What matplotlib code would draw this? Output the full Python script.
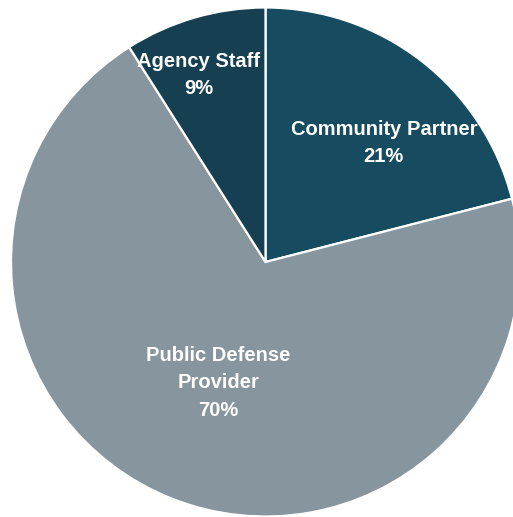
import numpy as np
import matplotlib
matplotlib.use("Agg")
import matplotlib.pyplot as plt
from matplotlib import font_manager

categories = ["Community Partner", "Public Defense\nProvider", "Agency Staff"]
shares = [21, 70, 9]
colors = ["#174b5f", "#87959f", "#163f51"]

# label placement relative to each wedge: (radius fraction, angle tweak in degrees)
label_pos = [(0.66, -7.0), (0.51, 0.2), (0.78, 3.5)]

names = {f.name for f in font_manager.fontManager.ttflist}
family = ["Liberation Sans Narrow"] if "Liberation Sans Narrow" in names else ["Liberation Sans"]

fig = plt.figure(figsize=(5.13, 5.17), dpi=100)
ax = fig.add_axes([0, 0, 1, 1])

cx, cy, r = 265.5, 255.0, 254.5
wedges, _ = ax.pie(shares, colors=colors, startangle=90, counterclock=False,
                   center=(cx, cy), radius=r,
                   wedgeprops=dict(edgecolor="white", linewidth=1.6))
ax.set_xlim(0, 513)
ax.set_ylim(0, 517)
ax.set_aspect("equal")
ax.axis("off")

for w, name, val, (frac, tweak) in zip(wedges, categories, shares, label_pos):
    mid = np.deg2rad((w.theta1 + w.theta2) / 2 + tweak)
    x = cx + frac * r * np.cos(mid)
    y = cy + frac * r * np.sin(mid)
    ax.text(x, y, f"{name}\n{val}%", ha="center", va="center", color="white",
            fontsize=14.5, fontweight="bold", family=family, linespacing=1.55)

fig.savefig("out.png", dpi=100)
